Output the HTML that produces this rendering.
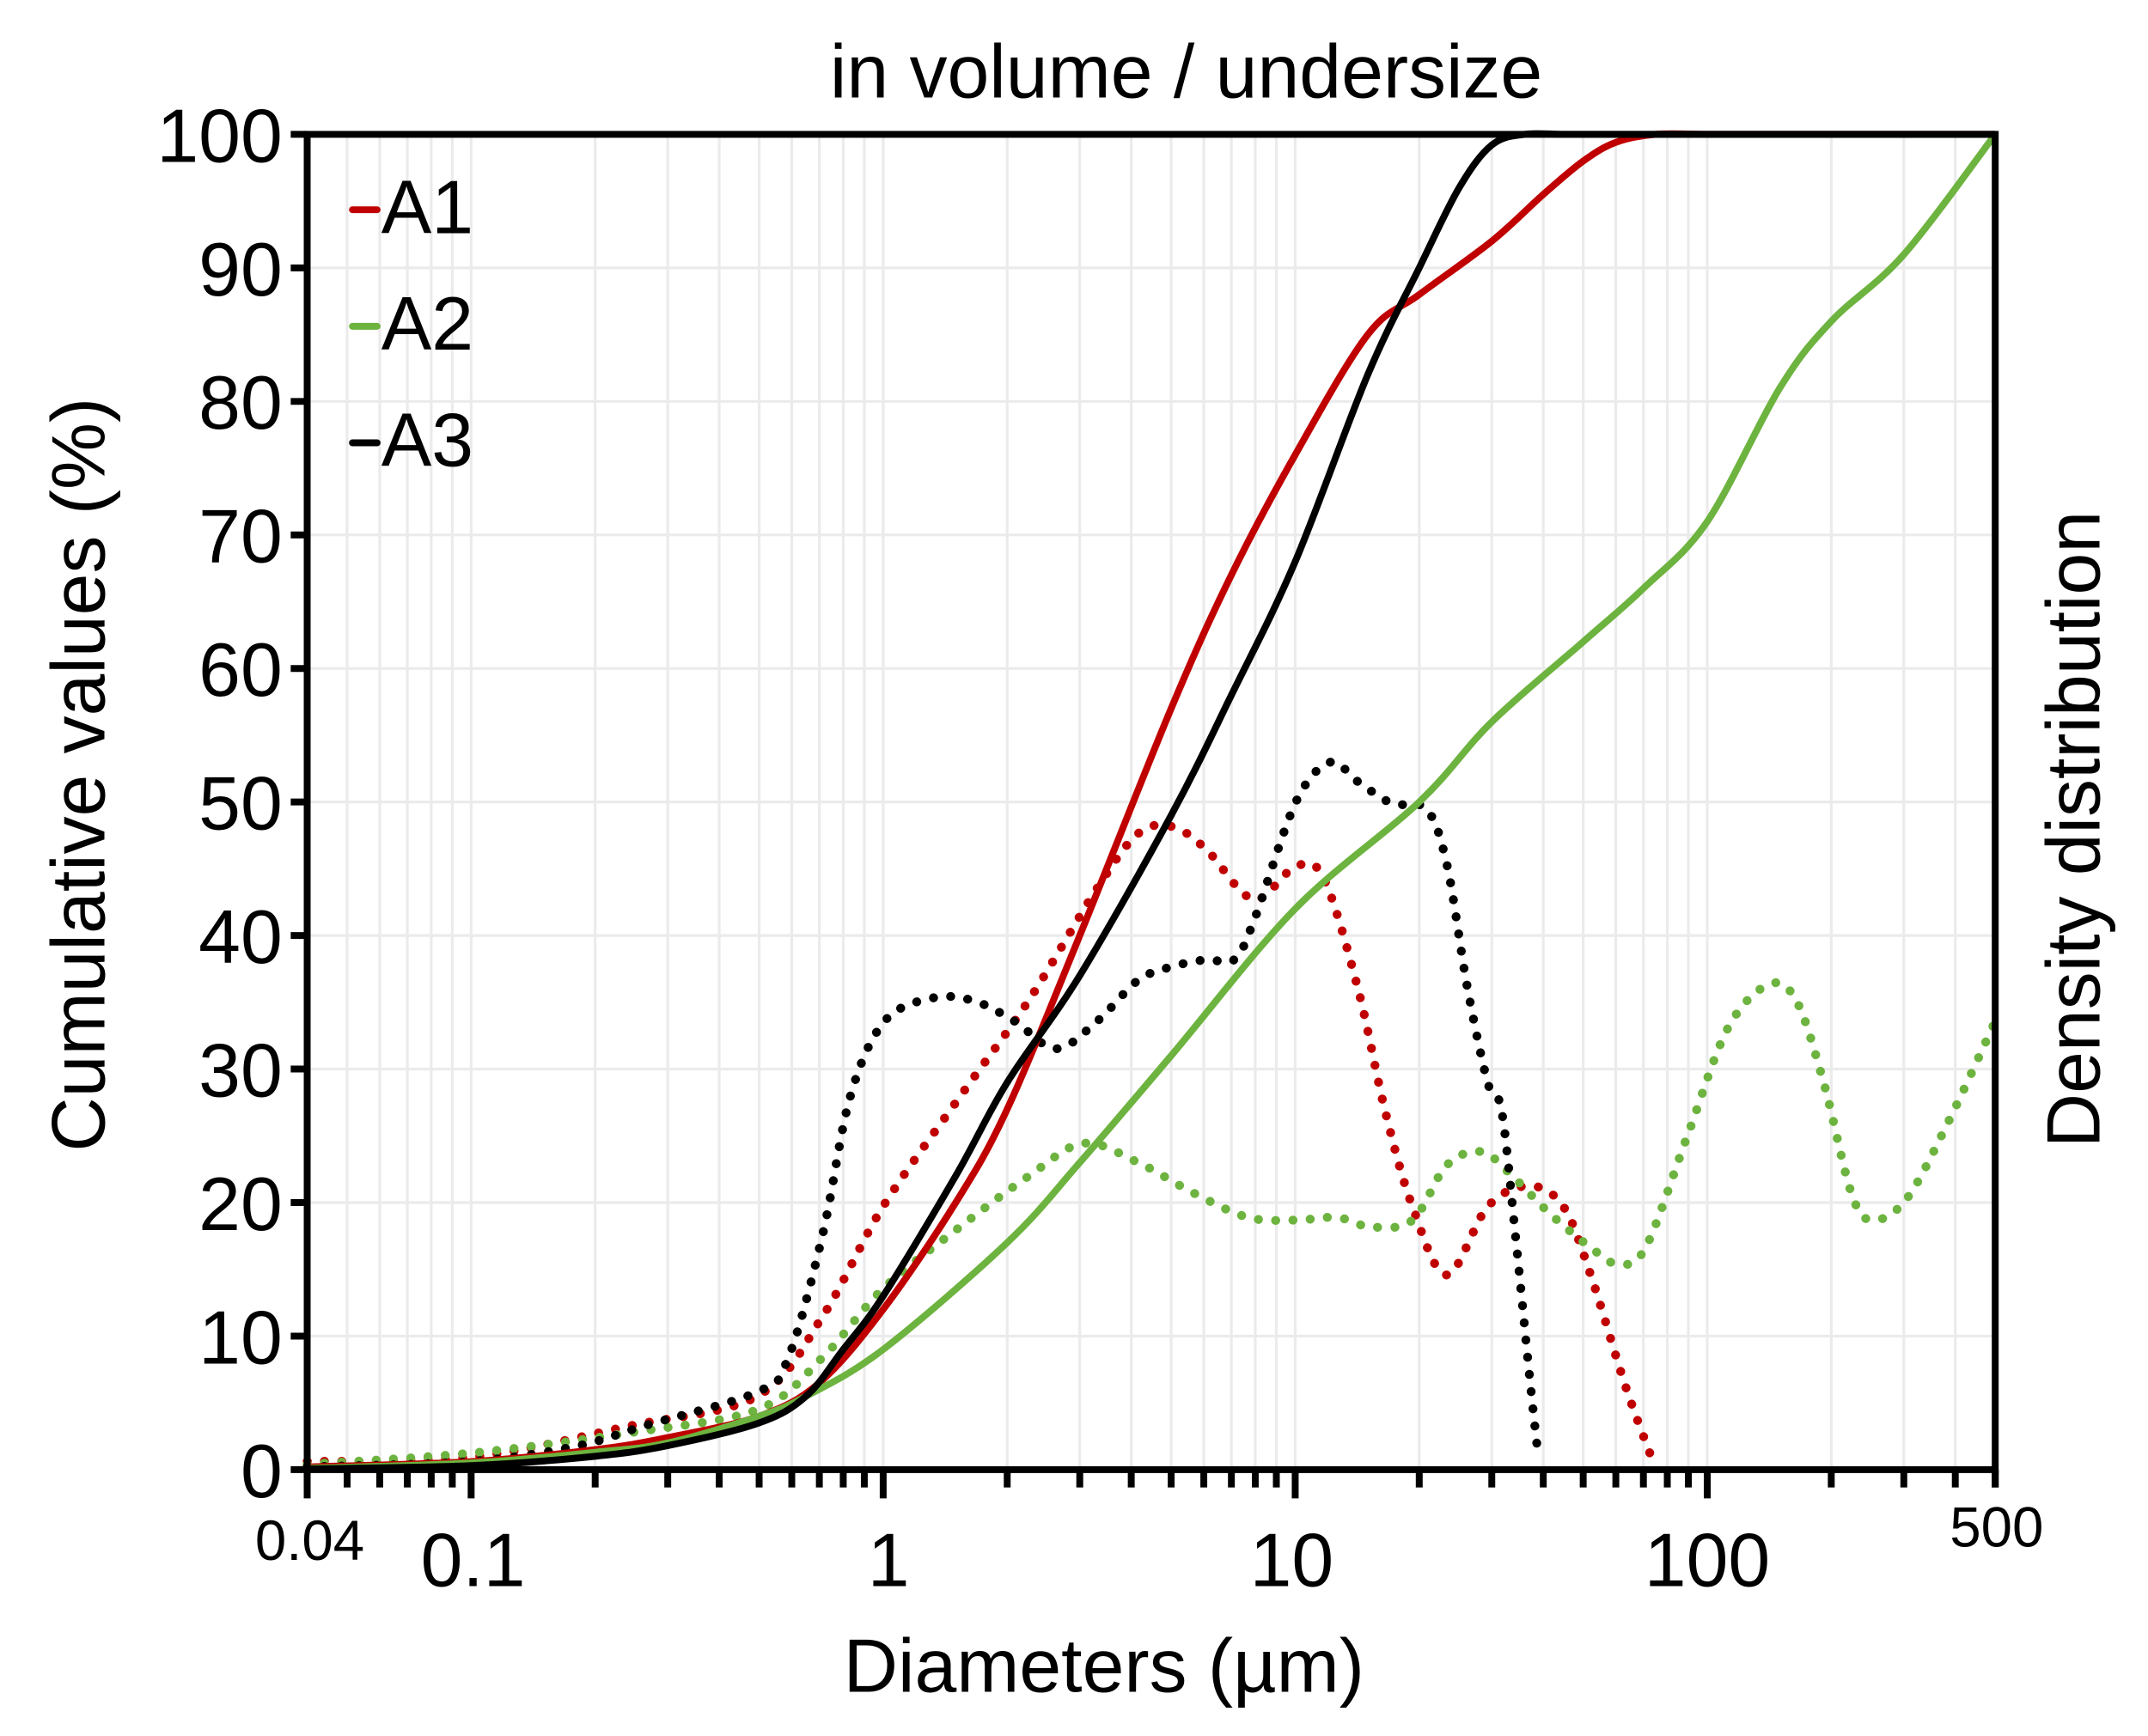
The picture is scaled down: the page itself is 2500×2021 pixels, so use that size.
<!DOCTYPE html>
<html><head><meta charset="utf-8">
<style>html,body{margin:0;padding:0;background:#fff}svg{display:block}</style>
</head><body>
<svg id="s" width="2500" height="2021" viewBox="0 0 1566.4 1266.3" xmlns="http://www.w3.org/2000/svg" font-family="Liberation Sans, Arial, sans-serif">
<rect width="1566.4" height="1266.3" fill="#fff"/>
<g id="grid" stroke="#ebebeb" stroke-width="2"></g>
<g id="curves" fill="none" stroke-linejoin="round"></g>
<g id="axes" stroke="#000" fill="none"></g>
<g font-size="55" fill="#000">
<text x="865" y="71" text-anchor="middle">in volume / undersize</text>
<text x="805" y="1234" text-anchor="middle">Diameters (µm)</text>
<text transform="translate(76,565) rotate(-90)" text-anchor="middle">Cumulative values (%)</text>
<text transform="translate(1531,605) rotate(-90)" text-anchor="middle">Density distribution</text>
<text x="186" y="1138" font-size="41">0.04</text>
<text x="345" y="1157" text-anchor="middle">0.1</text>
<text x="648" y="1157" text-anchor="middle">1</text>
<text x="942" y="1157" text-anchor="middle">10</text>
<text x="1245" y="1157" text-anchor="middle">100</text>
<text x="1456" y="1128" text-anchor="middle" font-size="41">500</text>
<text x="278" y="170">A1</text>
<text x="278" y="255">A2</text>
<text x="278" y="340">A3</text>
</g>
<g id="ylab" font-size="55" text-anchor="end"></g>
<line x1="257" y1="153" x2="275" y2="153" stroke="#c00000" stroke-width="5" stroke-linecap="round"/>
<line x1="257" y1="238" x2="275" y2="238" stroke="#6db33f" stroke-width="5" stroke-linecap="round"/>
<line x1="257" y1="323" x2="275" y2="323" stroke="#000" stroke-width="5" stroke-linecap="round"/>
</svg>
<script>
const NS="http://www.w3.org/2000/svg";
const L=224,R=1455,T=98,B=1072;
const X=d=>L+(Math.log10(d)-Math.log10(0.04))*(R-L)/Math.log10(12500);
const Y=v=>B-(B-T)*v/100;
function el(p,t,a){const e=document.createElementNS(NS,t);for(const k in a)e.setAttribute(k,a[k]);p.appendChild(e);return e;}
const grid=document.getElementById('grid'),axes=document.getElementById('axes'),cur=document.getElementById('curves'),yl=document.getElementById('ylab');
for(let v=10;v<100;v+=10) el(grid,'line',{x1:L,x2:R,y1:Y(v),y2:Y(v)});
const ticks=[];
for(let n=-2;n<=2;n++)for(let k=1;k<=9;k++){const d=k*Math.pow(10,n);if(d>=0.04-1e-9&&d<=500+1e-9)ticks.push([d,k==1]);}
ticks.forEach(([d,maj])=>{const x=X(d);el(grid,'line',{x1:x,x2:x,y1:T,y2:B});el(axes,'line',{x1:x,x2:x,y1:B,y2:B+(maj?21:13),'stroke-width':5});});
el(axes,'line',{x1:X(0.04),x2:X(0.04),y1:B,y2:B+21,'stroke-width':5});
el(axes,'line',{x1:R,x2:R,y1:B,y2:B+13,'stroke-width':5});
for(let v=0;v<=100;v+=10){el(axes,'line',{x1:L-12,x2:L,y1:Y(v),y2:Y(v),'stroke-width':5});const t=el(yl,'text',{x:206,y:Y(v)+20});t.textContent=v;}
el(axes,'rect',{x:L,y:T,width:R-L,height:B-T,'stroke-width':5});
function path(pts){let d='M'+pts[0][0]+','+pts[0][1];for(let i=0;i<pts.length-1;i++){const p0=pts[i-1]||pts[i],p1=pts[i],p2=pts[i+1],p3=pts[i+2]||p2;
d+=' C'+(p1[0]+(p2[0]-p0[0])/6)+','+(p1[1]+(p2[1]-p0[1])/6)+' '+(p2[0]-(p3[0]-p1[0])/6)+','+(p2[1]-(p3[1]-p1[1])/6)+' '+p2[0]+','+p2[1];}return d;}
function solid(data,c){el(cur,'path',{d:path(data.map(([d,v])=>[X(d),Y(v)])),stroke:c,'stroke-width':5});}
function dots(pts,c){el(cur,'path',{d:path(pts),stroke:c,'stroke-width':6.5,'stroke-dasharray':'0.1 12.5','stroke-linecap':'round'});}
dots([[224,1066],[343,1063],[460,1040],[553,1018],[600,960],[644,880],[700,800],[750,730],[800,648],[830,608],[855,603],[880,620],[905,650],[920,655],[945,632],[965,640],[990,720],[1010,810],[1030,880],[1055,930],[1085,880],[1115,865],[1140,880],[1160,930],[1185,1010],[1205,1065]],'#c00000');
dots([[224,1068],[343,1060],[460,1045],[553,1028],[600,990],[644,940],[700,895],[750,858],[790,834],[830,848],[870,870],[910,888],[945,890],[975,888],[1000,895],[1030,890],[1055,850],[1080,840],[1100,855],[1130,885],[1160,910],[1180,922],[1200,910],[1230,830],[1260,750],[1290,718],[1310,730],[1330,790],[1350,870],[1365,890],[1390,875],[1420,820],[1455,745]],'#6db33f');
dots([[224,1070],[343,1066],[420,1055],[470,1040],[553,1015],[575,990],[600,900],[620,800],[645,745],[680,728],[710,730],[740,745],[770,765],[800,745],[830,715],[855,705],[880,700],[900,700],[915,670],[945,585],[970,556],[990,570],[1015,586],[1040,590],[1055,630],[1070,720],[1085,790],[1095,810],[1105,900],[1115,1000],[1122,1065]],'#000');
solid([[0.04,0.2],[0.1,0.6],[0.2,1.5],[0.3,2.4],[0.5,4],[0.7,6.5],[1,12],[1.5,20],[2,27],[3,40],[5,57],[7,67],[10,76],[15,85],[20,88],[30,92],[40,95.5],[50,98],[60,99.4],[75,100],[100,100],[150,100],[250,100],[500,100]],'#c00000');
solid([[0.04,0.1],[0.1,0.5],[0.2,1.3],[0.3,2],[0.5,4],[0.65,5.5],[1,9],[2,17],[3,23],[5,31],[10,42],[20,50],[30,56],[50,62],[70,66],[100,71],[150,81],[200,86],[300,91],[500,100]],'#6db33f');
solid([[0.04,0.05],[0.1,0.3],[0.2,1],[0.3,1.8],[0.5,3.5],[0.65,5.5],[0.8,9],[1,13],[1.5,22],[2,29],[3,37],[5,49],[7,58],[10,68],[15,82],[20,90],[25,96],[30,99.2],[36,100],[45,100],[60,100],[100,100],[200,100],[500,100]],'#000');
</script>
</body></html>
